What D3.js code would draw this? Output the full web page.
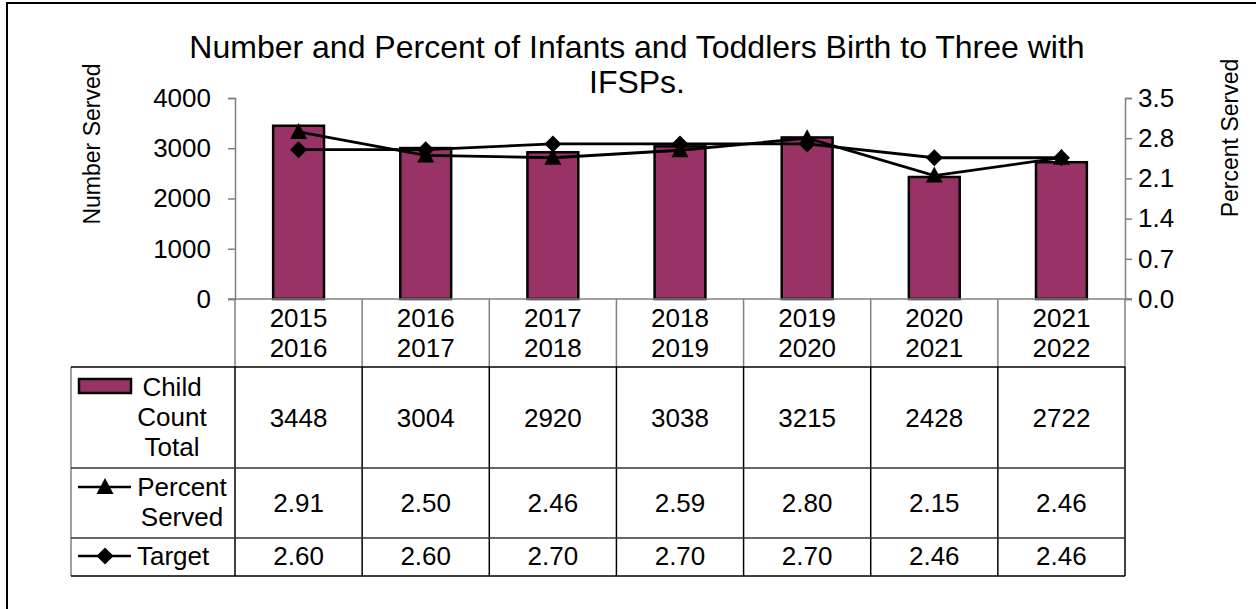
<!DOCTYPE html>
<html>
<head>
<meta charset="utf-8">
<script src="https://cdn.jsdelivr.net/npm/d3@7"></script>
<style>
  body { margin: 0; background: #fff; }
  svg { display: block; font-family: "Liberation Sans", Arial, sans-serif; }
</style>
</head>
<body>
<div id="chart"></div>
<script>
// data
var years = ["2015 2016", "2016 2017", "2017 2018", "2018 2019", "2019 2020", "2020 2021", "2021 2022"];
var childCount = [3448, 3004, 2920, 3038, 3215, 2428, 2722];
var percentServed = [2.91, 2.50, 2.46, 2.59, 2.80, 2.15, 2.46];
var target = [2.60, 2.60, 2.70, 2.70, 2.70, 2.46, 2.46];
var leftTicks = [0, 1000, 2000, 3000, 4000];
var rightTicks = [0, 0.7, 1.4, 2.1, 2.8, 3.5];

var W = 1256, H = 609;
var barColor = "#993366", axisGray = "#808080";
var plotL = 235, plotR = 1125, plotT = 98, plotB = 299;
var fs = 26;

var svg = d3.select('#chart').append('svg').attr('width', W).attr('height', H);

// outer frame (only top and left edges are inside the picture)
svg.append('rect').attr('x', 7).attr('y', 3).attr('width', 1270).attr('height', 640)
  .attr('fill', 'none').attr('stroke', '#000').attr('stroke-width', 2);

var x = d3.scaleBand().domain(years).range([plotL, plotR]).paddingInner(0).paddingOuter(0);
var yL = d3.scaleLinear().domain([0, 4000]).range([plotB, plotT]);
var yR = d3.scaleLinear().domain([0, 3.5]).range([plotB, plotT]);

// title
var title = svg.append('text').attr('x', 637).attr('text-anchor', 'middle').attr('font-size', 32).attr('fill', '#000');
title.append('tspan').attr('x', 637).attr('y', 58).text('Number and Percent of Infants and Toddlers Birth to Three with');
title.append('tspan').attr('x', 637).attr('y', 93).text('IFSPs.');

// axis titles
svg.append('text').attr('transform', 'translate(100,144) rotate(-90)').attr('text-anchor', 'middle')
  .attr('font-size', 23).text('Number Served');
svg.append('text').attr('transform', 'translate(1238,138) rotate(-90)').attr('text-anchor', 'middle')
  .attr('font-size', 23).text('Percent Served');

// left axis
var gL = svg.append('g').attr('transform', 'translate(' + plotL + ',0)')
  .call(d3.axisLeft(yL).tickValues(leftTicks).tickSize(7).tickPadding(17).tickFormat(d3.format('d')));
// right axis
var gR = svg.append('g').attr('transform', 'translate(' + plotR + ',0)')
  .call(d3.axisRight(yR).tickValues(rightTicks).tickSize(7).tickPadding(6).tickFormat(d3.format('.1f')));
[gL, gR].forEach(function(g) {
  g.select('.domain').attr('stroke', axisGray).attr('stroke-width', 1.5);
  g.selectAll('.tick line').attr('stroke', axisGray).attr('stroke-width', 1.5);
  g.selectAll('.tick text').attr('font-size', fs).attr('fill', '#000').attr('font-family', '"Liberation Sans", Arial, sans-serif');
});

// bars
var bw = x.bandwidth() * 0.4;
svg.selectAll('.bar').data(childCount).enter().append('rect').attr('class', 'bar')
  .attr('x', function(d, i) { return x(years[i]) + (x.bandwidth() - bw) / 2; })
  .attr('y', function(d) { return yL(d); })
  .attr('width', bw)
  .attr('height', function(d) { return yL(0) - yL(d); })
  .attr('fill', barColor).attr('stroke', '#000').attr('stroke-width', 2.5);

// x axis line at zero
svg.append('line').attr('x1', plotL - 7).attr('x2', plotR + 7).attr('y1', plotB).attr('y2', plotB)
  .attr('stroke', axisGray).attr('stroke-width', 1.5);

// lines
var cx = function(i) { return x(years[i]) + x.bandwidth() / 2; };
var line = d3.line().x(function(d, i) { return cx(i); }).y(function(d) { return yR(d); });
svg.append('path').datum(target).attr('d', line).attr('fill', 'none').attr('stroke', '#000').attr('stroke-width', 2.8);
svg.append('path').datum(percentServed).attr('d', line).attr('fill', 'none').attr('stroke', '#000').attr('stroke-width', 2.8);

var tri = 'M0,-9L8.5,7L-8.5,7Z';
var dia = 'M0,-8.5L8.5,0L0,8.5L-8.5,0Z';
svg.selectAll('.tgt').data(target).enter().append('path').attr('class', 'tgt')
  .attr('d', dia).attr('transform', function(d, i) { return 'translate(' + cx(i) + ',' + yR(d) + ')'; })
  .attr('fill', '#000');
svg.selectAll('.pct').data(percentServed).enter().append('path').attr('class', 'pct')
  .attr('d', tri).attr('transform', function(d, i) { return 'translate(' + cx(i) + ',' + yR(d) + ')'; })
  .attr('fill', '#000');

// data table
var tableL = 71, rowY = [299, 367, 468, 538, 576];
// header verticals (gray)
svg.selectAll('.hv').data(d3.range(years.length + 1)).enter().append('line').attr('class', 'hv')
  .attr('x1', function(i) { return plotL + i * x.bandwidth(); }).attr('x2', function(i) { return plotL + i * x.bandwidth(); })
  .attr('y1', rowY[0]).attr('y2', rowY[1]).attr('stroke', axisGray).attr('stroke-width', 1.5);
// body verticals
svg.selectAll('.bv').data(d3.range(years.length + 1)).enter().append('line').attr('class', 'bv')
  .attr('x1', function(i) { return plotL + i * x.bandwidth(); }).attr('x2', function(i) { return plotL + i * x.bandwidth(); })
  .attr('y1', rowY[1]).attr('y2', rowY[4]).attr('stroke', '#000').attr('stroke-width', 1.5);
svg.append('line').attr('x1', tableL).attr('x2', tableL).attr('y1', rowY[1]).attr('y2', rowY[4])
  .attr('stroke', axisGray).attr('stroke-width', 1.5);
svg.selectAll('.hr').data(rowY.slice(1)).enter().append('line').attr('class', 'hr')
  .attr('x1', tableL).attr('x2', plotR).attr('y1', function(d) { return d; }).attr('y2', function(d) { return d; })
  .attr('stroke', function(d, i) { return i === 0 || i === 3 ? '#000' : '#333'; }).attr('stroke-width', 1.5);

// year labels
years.forEach(function(yr, i) {
  var parts = yr.split(' ');
  var t = svg.append('text').attr('text-anchor', 'middle').attr('font-size', fs);
  t.append('tspan').attr('x', cx(i)).attr('y', 327).text(parts[0]);
  t.append('tspan').attr('x', cx(i)).attr('y', 357).text(parts[1]);
});

// table values
var rows = [
  { vals: childCount, fmt: d3.format('d'), y: 427 },
  { vals: percentServed, fmt: d3.format('.2f'), y: 512 },
  { vals: target, fmt: d3.format('.2f'), y: 565 }
];
rows.forEach(function(r) {
  svg.selectAll(null).data(r.vals).enter().append('text').attr('text-anchor', 'middle').attr('font-size', fs)
    .attr('x', function(d, i) { return cx(i); }).attr('y', r.y).text(function(d) { return r.fmt(d); });
});

// legend keys
svg.append('rect').attr('x', 79).attr('y', 379).attr('width', 52).attr('height', 14)
  .attr('fill', barColor).attr('stroke', '#000').attr('stroke-width', 2.5);
var lab1 = svg.append('text').attr('text-anchor', 'middle').attr('font-size', fs);
lab1.append('tspan').attr('x', 172).attr('y', 396).text('Child');
lab1.append('tspan').attr('x', 172).attr('y', 426).text('Count');
lab1.append('tspan').attr('x', 172).attr('y', 456).text('Total');

svg.append('line').attr('x1', 78).attr('x2', 131).attr('y1', 487).attr('y2', 487).attr('stroke', '#000').attr('stroke-width', 2.5);
svg.append('path').attr('d', tri).attr('transform', 'translate(105,487)');
var lab2 = svg.append('text').attr('text-anchor', 'middle').attr('font-size', fs);
lab2.append('tspan').attr('x', 182).attr('y', 496).text('Percent');
lab2.append('tspan').attr('x', 182).attr('y', 526).text('Served');

svg.append('line').attr('x1', 78).attr('x2', 131).attr('y1', 556).attr('y2', 556).attr('stroke', '#000').attr('stroke-width', 2.5);
svg.append('path').attr('d', dia).attr('transform', 'translate(105,556)');
svg.append('text').attr('x', 137).attr('y', 565).attr('font-size', fs).text('Target');
</script>
</body>
</html>
